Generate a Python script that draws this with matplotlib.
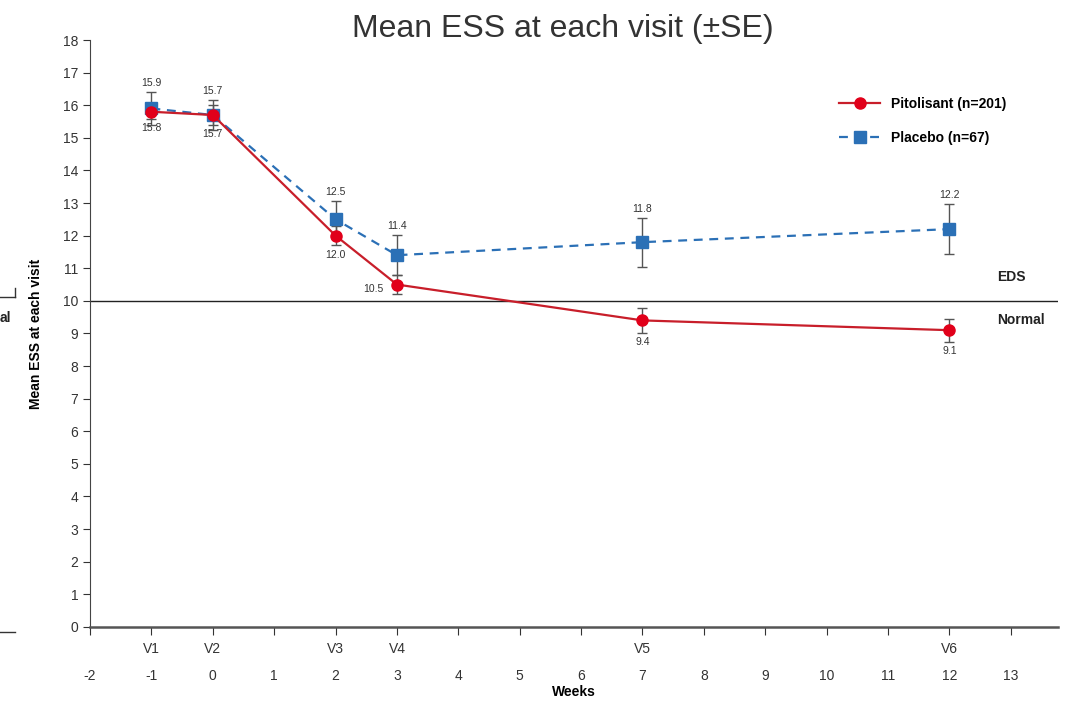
import numpy as np
import matplotlib.pyplot as plt
from matplotlib.lines import Line2D
from matplotlib.transforms import blended_transform_factory

plt.rcParams['font.family'] = ['Liberation Sans', 'DejaVu Sans']

weeks = [-1, 0, 2, 3, 7, 12]
visits = ["V1", "V2", "V3", "V4", "V5", "V6"]
pito_mean = [15.8, 15.7, 12.0, 10.5, 9.4, 9.1]
pito_se = [0.22, 0.3, 0.3, 0.3, 0.38, 0.35]
plac_mean = [15.9, 15.7, 12.5, 11.4, 11.8, 12.2]
plac_se = [0.5, 0.45, 0.55, 0.62, 0.75, 0.77]
xticks = list(range(-2, 14))

red = "#e1001a"
red_line = "#c81e2a"
blue = "#2b70b6"

fig = plt.figure(figsize=(10.72, 7.02), dpi=100)
ax = fig.add_axes([0.084, 0.107, 0.903, 0.836])

ax.errorbar(weeks, plac_mean, yerr=plac_se, fmt="none", ecolor="#555555",
            elinewidth=1, capsize=3.5, capthick=1, zorder=2)
ax.errorbar(weeks, pito_mean, yerr=pito_se, fmt="none", ecolor="#555555",
            elinewidth=1, capsize=3.5, capthick=1, zorder=2)
ax.plot(weeks, plac_mean, ls=(0, (4, 3)), color=blue, lw=1.6, marker="s",
        ms=8, mfc=blue, mec=blue, zorder=3, label="Placebo (n=67)")
ax.plot(weeks, pito_mean, ls="-", color=red_line, lw=1.6, marker="o",
        ms=8, mfc=red, mec=red, zorder=4, label="Pitolisant (n=201)")

# value labels
for x, m, s in zip(weeks, plac_mean, plac_se):
    ax.annotate(f"{m:.1f}", (x, m + s), xytext=(0, 3), textcoords="offset points",
                ha="center", va="bottom", fontsize=7.5, color="#333333")
for i, (x, m, s) in enumerate(zip(weeks, pito_mean, pito_se)):
    if i == 3:
        ax.annotate(f"{m:.1f}", (x, m), xytext=(-10, -3), textcoords="offset points",
                    ha="right", va="center", fontsize=7.5, color="#333333")
    else:
        ax.annotate(f"{m:.1f}", (x, m - s), xytext=(0, -3), textcoords="offset points",
                    ha="center", va="top", fontsize=7.5, color="#333333")

ax.axhline(10, color="#222222", lw=1, zorder=1)
ax.text(12.77, 10.72, "EDS", ha="left", va="center", fontsize=10, fontweight="bold", color="#222222")
ax.text(12.77, 9.4, "Normal", ha="left", va="center", fontsize=10, fontweight="bold", color="#222222")

ax.set_xlim(-2, 13.77)
ax.set_ylim(0, 18)
ax.set_yticks(range(0, 19))
ax.set_xticks(xticks)
ax.set_xticklabels([str(t) for t in xticks])
ax.tick_params(axis="x", length=6, pad=24, labelsize=10, colors="#333333")
ax.tick_params(axis="y", length=5, labelsize=10, colors="#333333")
for sp in ["top", "right"]:
    ax.spines[sp].set_visible(False)
ax.spines["left"].set_color("#444444")
ax.spines["bottom"].set_color("#555555")
ax.spines["bottom"].set_linewidth(1.8)

trans = blended_transform_factory(ax.transData, ax.transAxes)
for x, v in zip(weeks, visits):
    ax.text(x, -0.025, v, transform=trans, ha="center", va="top", fontsize=10, color="#333333")

ax.set_xlabel("Weeks", fontsize=10, fontweight="bold", labelpad=2)
ax.set_ylabel("Mean ESS at each visit", fontsize=10, fontweight="bold", labelpad=14)

handles, labels = ax.get_legend_handles_labels()
leg = ax.legend(handles[::-1], labels[::-1], loc="upper right", bbox_to_anchor=(0.96, 0.925),
                frameon=False, prop={"weight": "bold", "size": 10}, handlelength=3.0,
                labelspacing=1.45)

fig.text(0.525, 0.958, "Mean ESS at each visit (±SE)", ha="center", va="center",
         fontsize=23, color="#333333")

# cropped fragment at the left edge
fig.text(0.0, 0.547, "al", ha="left", va="center", fontsize=10, fontweight="bold", color="#222222")
fig.add_artist(Line2D([0, 0.014], [0.577, 0.577], color="#333333", lw=1))
fig.add_artist(Line2D([0.014, 0.014], [0.577, 0.59], color="#333333", lw=1))
fig.add_artist(Line2D([0, 0.014], [0.1, 0.1], color="#333333", lw=1))

fig.savefig("out.png", dpi=100)
